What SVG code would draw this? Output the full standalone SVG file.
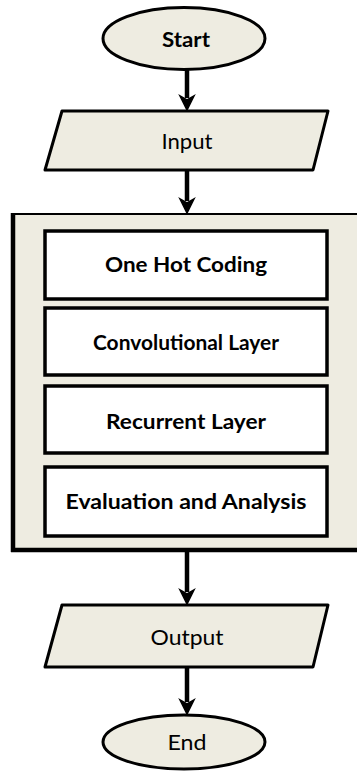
<svg xmlns="http://www.w3.org/2000/svg" width="357" height="776" viewBox="0 0 357 776">
<defs>
<style>
.sh{fill:#EEECE1;stroke:#000;stroke-width:3;stroke-linejoin:round}
.bx{fill:#fff;stroke:#000;stroke-width:3.5}
.t{font-family:Lato,"Open Sans","Liberation Sans",sans-serif;font-size:21px;font-weight:bold;fill:#000;text-anchor:middle}
.tr{font-family:Lato,"Open Sans","Liberation Sans",sans-serif;font-size:21px;font-weight:normal;fill:#000;text-anchor:middle}
.c{stroke:#000;stroke-width:4.5;fill:none}
.ah{fill:#000;stroke:#000;stroke-width:1.5}
</style>
</defs>
<rect width="357" height="776" fill="#fff"/>
<g id="connectors">
<line class="c" x1="187" y1="70" x2="187" y2="98"/>
<path class="ah" d="M180,96 L187,110 L194,96 L187,100 Z"/>
<line class="c" x1="187" y1="170" x2="187" y2="201"/>
<path class="ah" d="M180,199 L187,213 L194,199 L187,203 Z"/>
<line class="c" x1="187" y1="551" x2="187" y2="592"/>
<path class="ah" d="M180,590 L187,604 L194,590 L187,594 Z"/>
<line class="c" x1="187" y1="667" x2="187" y2="702"/>
<path class="ah" d="M180,700 L187,714 L194,700 L187,704 Z"/>
</g>
<g id="start">
<ellipse class="sh" cx="184" cy="38.5" rx="81" ry="31"/>
<text class="t" x="186" y="47" textLength="48" lengthAdjust="spacingAndGlyphs">Start</text>
</g>
<g id="input">
<polygon class="sh" points="62,111 328,111 313,170 45,170"/>
<text class="tr" x="187" y="149" textLength="51" lengthAdjust="spacingAndGlyphs">Input</text>
</g>
<g id="container">
<rect x="13" y="214" width="360" height="336" fill="#EEECE1" stroke="#000" stroke-width="2"/>
<line x1="13" y1="213" x2="13" y2="552" stroke="#000" stroke-width="4.5"/>
<line x1="11" y1="550" x2="357" y2="550" stroke="#000" stroke-width="4.5"/>
</g>
<g id="one-hot">
<rect class="bx" x="45" y="231" width="282" height="68"/>
<text class="t" x="186" y="272" textLength="162" lengthAdjust="spacingAndGlyphs">One Hot Coding</text>
</g>
<g id="conv">
<rect class="bx" x="45" y="308" width="282" height="67"/>
<text class="t" x="186" y="350" textLength="186" lengthAdjust="spacingAndGlyphs">Convolutional Layer</text>
</g>
<g id="recurrent">
<rect class="bx" x="45" y="386" width="282" height="67"/>
<text class="t" x="186" y="429" textLength="160" lengthAdjust="spacingAndGlyphs">Recurrent Layer</text>
</g>
<g id="evaluation">
<rect class="bx" x="45" y="467" width="282" height="69"/>
<text class="t" x="186" y="509" textLength="241" lengthAdjust="spacingAndGlyphs">Evaluation and Analysis</text>
</g>
<g id="output">
<polygon class="sh" points="62,605 328,605 313,667 45,667"/>
<text class="tr" x="187" y="645" textLength="73" lengthAdjust="spacingAndGlyphs">Output</text>
</g>
<g id="end">
<ellipse class="sh" cx="184" cy="742" rx="81" ry="27"/>
<text class="tr" x="187" y="750" textLength="39" lengthAdjust="spacingAndGlyphs">End</text>
</g>
</svg>
